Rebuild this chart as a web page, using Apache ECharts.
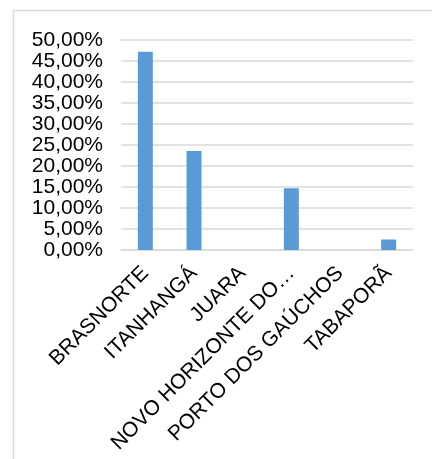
<!DOCTYPE html>
<html>
<head>
<meta charset="utf-8">
<script src="https://cdn.jsdelivr.net/npm/echarts@6/dist/echarts.min.js"></script>
<style>
  html, body { margin: 0; padding: 0; background: #fff; }
  #chart { width: 432px; height: 459px; }
</style>
</head>
<body>
<div id="chart"></div>
<script>
// Municipalities and their share of the total (percent)
const categories = ['BRASNORTE', 'ITANHANGÁ', 'JUARA', 'NOVO HORIZONTE DO NORTE', 'PORTO DOS GAÚCHOS', 'TABAPORÃ'];
const shares = [47.2, 23.6, 0, 14.7, 0, 2.5];
const yTicks = { min: 0, max: 50, interval: 5 };

const chart = echarts.init(document.getElementById('chart'), null, { renderer: 'canvas' });

const fontFamily = '"Liberation Sans", Arial, sans-serif';

chart.setOption({
  animation: false,
  backgroundColor: '#fff',
  graphic: [{
    type: 'rect',
    shape: { x: 13.5, y: 10.5, width: 440, height: 470 },
    style: { fill: 'none', stroke: '#d9d9d9', lineWidth: 1.5 },
    silent: true
  }],
  grid: { left: 121, right: 19, top: 40, bottom: 209, containLabel: false },
  xAxis: {
    type: 'category',
    data: categories,
    axisLine: { show: true, lineStyle: { color: '#d9d9d9', width: 1.5 } },
    axisTick: { show: false },
    axisLabel: {
      rotate: 45,
      interval: 0,
      margin: 20,
      color: '#000',
      fontSize: 21,
      fontFamily: fontFamily,
      formatter: v => v.length > 17 ? v.slice(0, 17) + '…' : v
    }
  },
  yAxis: {
    type: 'value',
    min: yTicks.min,
    max: yTicks.max,
    interval: yTicks.interval,
    axisLine: { show: false },
    axisTick: { show: false },
    splitLine: { lineStyle: { color: '#d9d9d9', width: 1.5 } },
    axisLabel: {
      margin: 18,
      color: '#000',
      fontSize: 21,
      fontFamily: fontFamily,
      formatter: v => v.toFixed(2).replace('.', ',') + '%'
    }
  },
  series: [{
    type: 'bar',
    data: shares,
    barWidth: 15,
    itemStyle: { color: '#5b9bd5' }
  }]
});
</script>
</body>
</html>
